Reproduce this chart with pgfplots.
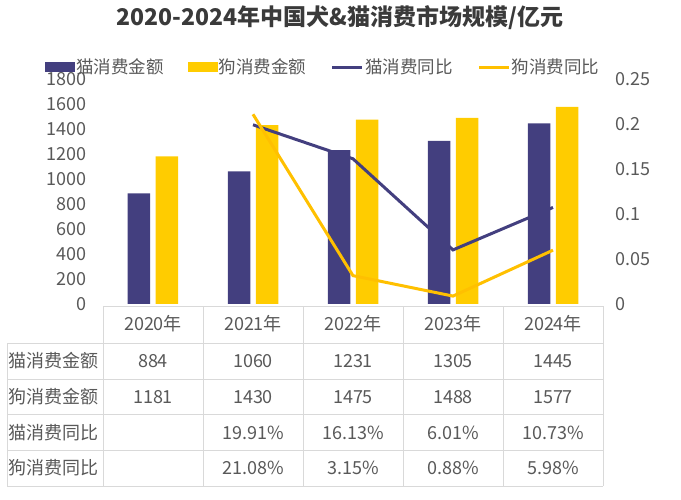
\documentclass[border=0pt]{standalone}
\usepackage{fontspec}
\setmainfont{Noto Sans CJK SC}
\usepackage{pgfplots}
\pgfplotsset{compat=1.18}
\definecolor{catc}{HTML}{433F7F}
\definecolor{dogc}{HTML}{FFCC00}
\definecolor{dogl}{HTML}{FFC000}
\definecolor{txt}{HTML}{595959}
\definecolor{ttl}{HTML}{3A3A3A}
\definecolor{gridc}{HTML}{D9D9D9}
\newcommand\fs{\fontsize{18}{21}\selectfont}
\newcommand\lfs{\fontsize{17.5}{20}\selectfont}

\begin{document}
\begin{tikzpicture}[x=1pt,y=1pt]
\useasboundingbox (0,0) rectangle (681,-500);
\node[font=\fontsize{23}{27}\selectfont\bfseries, text=ttl] at (340,-18) {2020-2024年中国犬\&猫消费市场规模/亿元};

\begin{axis}[at={(103pt,-304pt)}, anchor=south west, scale only axis,
  width=500pt, height=225pt,
  xmin=-0.5, xmax=4.5, ymin=0, ymax=1800,
  ytick={0,200,400,600,800,1000,1200,1400,1600,1800}, xtick=\empty,
  axis line style={draw=none}, major tick length=0pt,
  ybar, bar width=22.5pt,
  /pgf/number format/assume math mode=true,
  /pgf/number format/1000 sep={},
  yticklabel style={font=\fs, text=txt, xshift=-13pt},
  clip=false]
\addplot[fill=catc, draw=none, bar shift=-14pt] coordinates {(0,884) (1,1060) (2,1231) (3,1305) (4,1445)};
\addplot[fill=dogc, draw=none, bar shift=14pt] coordinates {(0,1181) (1,1430) (2,1475) (3,1488) (4,1577)};
\end{axis}

\begin{axis}[at={(103pt,-304pt)}, anchor=south west, scale only axis,
  width=500pt, height=225pt,
  xmin=-0.5, xmax=4.5, ymin=0, ymax=0.25,
  ytick={0,0.05,0.1,0.15,0.2,0.25}, xtick=\empty,
  axis y line*=right, axis x line=none,
  axis line style={draw=none}, major tick length=0pt,
  /pgf/number format/assume math mode=true,
  yticklabel style={font=\fs, text=txt, xshift=9pt, /pgf/number format/fixed},
  legend columns=4,
  legend style={at={(axis description cs:-0.116,1.053)}, anchor=west, draw=none, fill=none,
    font=\lfs, text=txt, inner sep=0pt,
    /tikz/every even column/.append style={column sep=23pt},
    nodes={inner sep=1.5pt}},
  clip=false]
\addlegendimage{legend image code/.code={\fill[catc] (0pt,-4.5pt) rectangle (29pt,4.5pt);}}
\addlegendentry{猫消费金额}
\addlegendimage{legend image code/.code={\fill[dogc] (0pt,-4.5pt) rectangle (29pt,4.5pt);}}
\addlegendentry{狗消费金额}
\addplot[catc, line width=3pt, legend image code/.code={\draw[catc, line width=3pt] (0pt,0pt) -- (30pt,0pt);}]
  coordinates {(1,0.1991) (2,0.1613) (3,0.0601) (4,0.1073)};
\addlegendentry{猫消费同比}
\addplot[dogl, line width=3pt, legend image code/.code={\draw[dogl, line width=3pt] (0pt,0pt) -- (30pt,0pt);}]
  coordinates {(1,0.2108) (2,0.0315) (3,0.0088) (4,0.0598)};
\addlegendentry{狗消费同比}
\end{axis}

% data table
\begin{scope}[draw=gridc, line width=1pt]
\draw (103,-306) -- (603,-306);
\foreach \y in {-343,-379,-414,-450,-486} \draw (7,\y) -- (603,\y);
\draw (7,-343) -- (7,-486);
\foreach \x in {103,203,303,403,503,603} \draw (\x,-306) -- (\x,-486);
\end{scope}
\begin{scope}[every node/.style={font=\fs, text=txt, inner sep=0pt}]
\foreach \lab [count=\i from 0] in {2020年,2021年,2022年,2023年,2024年}
  \node at (153+100*\i,-324) {\lab};
\node[anchor=west] at (8,-361) {猫消费金额};
\node[anchor=west] at (8,-397) {狗消费金额};
\node[anchor=west] at (8,-433) {猫消费同比};
\node[anchor=west] at (8,-468) {狗消费同比};
\foreach \v [count=\i from 0] in {884,1060,1231,1305,1445}
  \node at (153+100*\i,-361) {\v};
\foreach \v [count=\i from 0] in {1181,1430,1475,1488,1577}
  \node at (153+100*\i,-397) {\v};
\foreach \v [count=\i from 1] in {19.91\%,16.13\%,6.01\%,10.73\%}
  \node at (153+100*\i,-433) {\v};
\foreach \v [count=\i from 1] in {21.08\%,3.15\%,0.88\%,5.98\%}
  \node at (153+100*\i,-468) {\v};
\end{scope}
\end{tikzpicture}
\end{document}
